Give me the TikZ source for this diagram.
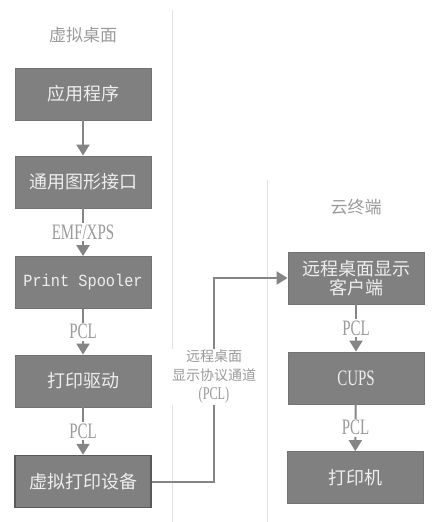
\documentclass[tikz,border=0pt]{standalone}
\usepackage{fontspec}
\setmainfont{Liberation Serif}
\newfontfamily\cjk{Noto Sans CJK SC}
\newfontfamily\monofont[FakeStretch=0.9]{Liberation Mono}
\newfontfamily\condfont[FakeStretch=0.68]{Liberation Serif}
\usetikzlibrary{arrows.meta}
\definecolor{boxgray}{HTML}{808080}
\definecolor{boxtext}{HTML}{EEEEEE}
\definecolor{labgray}{HTML}{9A9A9A}
\definecolor{divgray}{HTML}{E2E2E2}
\definecolor{linegray}{HTML}{858585}
\tikzset{
  stepbox/.style={draw=boxgray!90!black, line width=0.8pt, fill=boxgray, text=boxtext,
    minimum width=136pt, minimum height=52pt, inner sep=0pt, align=center,
    font=\cjk\fontsize{18}{22}\selectfont},
  title/.style={text=labgray, font=\cjk\fontsize{17}{20}\selectfont},
  flowlabel/.style={fill=white, text=labgray, inner sep=1.5pt, font=\condfont\fontsize{22}{24}\selectfont},
  flow/.style={draw=linegray, line width=2pt, -{Triangle[width=13pt,length=11pt]}},
  divider/.style={draw=divgray, line width=0.8pt}
}
\begin{document}
\begin{tikzpicture}[x=1pt,y=-1pt]
\useasboundingbox (0,0) rectangle (440,522);
% dividers
\draw[divider] (172,10) -- (172,522);
\draw[divider] (267,180) -- (267,522);
% titles
\node[title] (t1) at (83,35) {虚拟桌面};
\node[title] (t2) at (356,207) {云终端};
% left column
\node[stepbox] (b1) at (83,94) {应用程序};
\node[stepbox] (b2) at (83,182) {通用图形接口};
\node[stepbox, font=\monofont\fontsize{17}{20}\selectfont] (b3) at (83,282.5) {Print Spooler};
\node[stepbox] (b4) at (83,381) {打印驱动};
\node[stepbox, draw=black!65, line width=1.5pt] (b5) at (83,481.5) {虚拟打印设备};
% right column
\node[stepbox] (r1) at (356,278) {远程桌面显示\\[-3pt]客户端};
\node[stepbox, font=\condfont\fontsize{22}{24}\selectfont] (r2) at (356,378) {CUPS};
\node[stepbox] (r3) at (355,477.5) {打印机};
% left flows
\draw[flow] (b1) -- (b2);
\draw[flow] (b2) -- (b3) node[flowlabel, midway] {EMF/XPS};
\draw[flow] (b3) -- (b4) node[flowlabel, midway] {PCL};
\draw[flow] (b4) -- (b5) node[flowlabel, midway] {PCL};
% right flows
\draw[flow] (r1) -- (r2) node[flowlabel, midway] {PCL};
\draw[flow] (r2) -- (r3) node[flowlabel, midway] {PCL};
% channel
\coordinate (c1) at (214,481.5);
\coordinate (c2) at (214,278);
\draw[flow] (b5.east) -- (c1) -- (c2) -- (r1.west);
\node[fill=white, text=labgray, align=center, inner sep=1pt,
  font=\cjk\fontsize{14}{19}\selectfont] (ch) at (214,377)
  {远程桌面\\显示协议通道\\{\condfont\fontsize{18}{15}\selectfont(PCL)}};
\end{tikzpicture}
\end{document}
